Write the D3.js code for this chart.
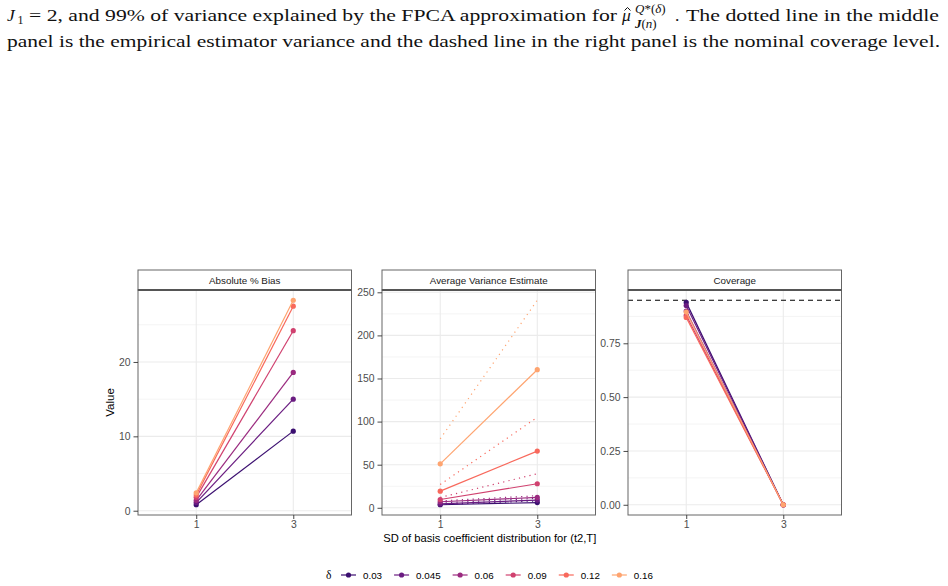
<!DOCTYPE html>
<html>
<head>
<meta charset="utf-8">
<script src="https://cdn.jsdelivr.net/npm/d3@7"></script>
<style>
  body { margin: 0; background: #fff; }
  svg { display: block; }
</style>
</head>
<body>
<svg id="fig" width="948" height="586"></svg>
<script>
// data
var deltas = ['0.03', '0.045', '0.06', '0.09', '0.12', '0.16'];
var sdLevels = ['1', '3'];
var biasVals = [[0.8, 10.7], [1.1, 15.0], [1.4, 18.6], [1.8, 24.2], [2.1, 27.5], [2.4, 28.3]];
var varEst = [[3.5, 6], [4.5, 9], [7, 12], [9.6, 27.9], [19.3, 65.8], [51, 160.2]];
var varEmp = [[4, 8], [5.5, 11], [8, 14], [12, 39.5], [27, 105], [80, 240.8]];
var coverage = [[0.94, 0], [0.925, 0], [0.90, 0], [0.88, 0], [0.87, 0], [0.895, 0]];
var nominal = 0.95;
var colors = ['#3B0F70', '#6A1C81', '#9A2A7F', '#D0416F', '#F8695C', '#FEA470'];

var panelTitles = ['Absolute % Bias', 'Average Variance Estimate', 'Coverage'];
var yTicks = [[0, 10, 20], [0, 50, 100, 150, 200, 250], [0, 0.25, 0.5, 0.75]];
var yMinor = [[5, 15, 25], [25, 75, 125, 175, 225], [0.125, 0.375, 0.625, 0.875]];

var svg = d3.select('#fig');
var font = 'Liberation Sans, Arial, sans-serif';
var serif = 'Liberation Serif, Times New Roman, serif';

// caption
var cap = svg.append('g').style('font-family', serif).style('font-size', '17.5px').attr('fill', '#111');
cap.append('text').attr('x', 7).attr('y', 21).style('font-style', 'italic').text('J');
cap.append('text').attr('x', 17.5).attr('y', 24).style('font-size', '12px').text('1');
cap.append('text').attr('x', 29).attr('y', 21)
   .attr('textLength', 588).attr('lengthAdjust', 'spacingAndGlyphs')
   .text('= 2, and 99% of variance explained by the FPCA approximation for');
cap.append('text').attr('x', 622).attr('y', 21).style('font-style', 'italic').text('\u03bc');
// hat accent over mu
cap.append('path').attr('d', 'M624.5,10.5 L627.5,7.5 L630.5,10.5')
   .attr('fill', 'none').style('stroke', '#111').style('stroke-width', '1px');
cap.append('text').attr('x', 635).attr('y', 13).style('font-size', '13px')
   .html('<tspan font-style="italic">Q</tspan>*(<tspan font-style="italic">\u03b4</tspan>)');
cap.append('text').attr('x', 635).attr('y', 28).style('font-size', '13px')
   .html('<tspan font-style="italic" font-weight="bold">J</tspan>(<tspan font-style="italic">n</tspan>)');
cap.append('text').attr('x', 675).attr('y', 21).text('.');
cap.append('text').attr('x', 686).attr('y', 21)
   .attr('textLength', 253).attr('lengthAdjust', 'spacingAndGlyphs')
   .text('The dotted line in the middle');
cap.append('text').attr('x', 7).attr('y', 47)
   .attr('textLength', 933).attr('lengthAdjust', 'spacingAndGlyphs')
   .text('panel is the empirical estimator variance and the dashed line in the right panel is the nominal coverage level.');

// panels
var panelLeft = [138, 382, 628];
var panelW = 213.5;
var stripTop = 270, panelTop = 290, panelBot = 515;

var solidSets = [biasVals, varEst, coverage];

function extentOf(sets, extra) {
  var all = [];
  sets.forEach(function(s) { s.forEach(function(r) { all = all.concat(r); }); });
  if (extra !== undefined) all.push(extra);
  return d3.extent(all);
}

var domains = [
  extentOf([biasVals]),
  extentOf([varEst, varEmp]),
  extentOf([coverage], nominal)
];

for (var p = 0; p < 3; p++) {
  var x0 = panelLeft[p];
  var g = svg.append('g').attr('transform', 'translate(' + x0 + ',0)');
  var ext = domains[p];
  var pad = (ext[1] - ext[0]) * 0.05;
  var y = d3.scaleLinear().domain([ext[0] - pad, ext[1] + pad]).range([panelBot, panelTop]);
  var x = d3.scalePoint().domain(sdLevels).range([0, panelW]).padding(0.6);

  // background + grid
  g.append('rect').attr('x', 0).attr('y', panelTop).attr('width', panelW).attr('height', panelBot - panelTop)
   .attr('fill', '#fff');
  g.selectAll('.minor').data(yMinor[p]).enter().append('line')
   .attr('x1', 0).attr('x2', panelW).attr('y1', function(d) { return y(d); }).attr('y2', function(d) { return y(d); })
   .style('stroke', '#EBEBEB').style('stroke-width', '0.55px');
  g.selectAll('.major').data(yTicks[p]).enter().append('line')
   .attr('x1', 0).attr('x2', panelW).attr('y1', function(d) { return y(d); }).attr('y2', function(d) { return y(d); })
   .style('stroke', '#EBEBEB').style('stroke-width', '1.1px');
  g.selectAll('.vgrid').data(sdLevels).enter().append('line')
   .attr('y1', panelTop).attr('y2', panelBot).attr('x1', function(d) { return x(d); }).attr('x2', function(d) { return x(d); })
   .style('stroke', '#EBEBEB').style('stroke-width', '1.1px');

  // dotted empirical variance (middle panel)
  if (p === 1) {
    for (var k = 0; k < deltas.length; k++) {
      g.append('line')
       .attr('x1', x(sdLevels[0])).attr('y1', y(varEmp[k][0]))
       .attr('x2', x(sdLevels[1])).attr('y2', y(varEmp[k][1]))
       .style('stroke', colors[k]).style('stroke-width', '1.2px')
       .style('stroke-dasharray', '1.2 4.2');
    }
  }
  // nominal coverage (right panel)
  if (p === 2) {
    g.append('line')
     .attr('x1', 0).attr('x2', panelW).attr('y1', y(nominal)).attr('y2', y(nominal))
     .style('stroke', '#000').style('stroke-width', '1.2px').style('stroke-dasharray', '5 4');
  }

  // solid lines + points
  var set = solidSets[p];
  for (var k = 0; k < deltas.length; k++) {
    var row = set[k];
    g.append('line')
     .attr('x1', x(sdLevels[0])).attr('y1', y(row[0]))
     .attr('x2', x(sdLevels[1])).attr('y2', y(row[1]))
     .style('stroke', colors[k]).style('stroke-width', '1.2px');
    g.selectAll('.pt' + k).data(row).enter().append('circle')
     .attr('cx', function(d, i) { return x(sdLevels[i]); })
     .attr('cy', function(d) { return y(d); })
     .attr('r', 2.6)
     .style('fill', colors[k]);
  }

  // border + strip
  g.append('rect').attr('x', 0).attr('y', panelTop).attr('width', panelW).attr('height', panelBot - panelTop)
   .attr('fill', 'none').style('stroke', '#666').style('stroke-width', '1px');
  g.append('rect').attr('x', 0).attr('y', stripTop).attr('width', panelW).attr('height', panelTop - stripTop)
   .attr('fill', '#fff').style('stroke', '#666').style('stroke-width', '1px');
  g.append('line').attr('x1', 0).attr('x2', panelW).attr('y1', panelTop).attr('y2', panelTop)
   .style('stroke', '#555').style('stroke-width', '2px');
  g.append('text').attr('x', panelW / 2).attr('y', stripTop + 14)
   .attr('text-anchor', 'middle').style('font-family', font).style('font-size', '9.8px').attr('fill', '#1A1A1A')
   .text(panelTitles[p]);

  // axes
  var yAxis = d3.axisLeft(y).tickValues(yTicks[p]).tickSize(4.5).tickPadding(3)
    .tickFormat(p === 2 ? d3.format('.2f') : d3.format('d'));
  var ya = g.append('g').call(yAxis);
  var xa = g.append('g').attr('transform', 'translate(0,' + panelBot + ')')
    .call(d3.axisBottom(x).tickSize(4).tickPadding(1.5));
  [ya, xa].forEach(function(a) {
    a.select('.domain').remove();
    a.selectAll('line').style('stroke', '#333').style('stroke-width', '0.9px');
    a.selectAll('text').style('font-family', font).style('font-size', '10.4px').attr('fill', '#4D4D4D');
  });
}

// axis titles
svg.append('text').attr('transform', 'translate(114,' + ((panelTop + panelBot) / 2) + ') rotate(-90)')
   .attr('text-anchor', 'middle').style('font-family', font).style('font-size', '11.5px').attr('fill', '#000')
   .text('Value');
svg.append('text').attr('x', (panelLeft[0] + panelLeft[2] + panelW) / 2).attr('y', 542)
   .attr('text-anchor', 'middle').style('font-family', font).style('font-size', '11.2px').attr('fill', '#000')
   .text('SD of basis coefficient distribution for (t2,T]');

// legend, laid out left to right from measured label widths
var lg = svg.append('g').attr('transform', 'translate(0,575)');
lg.append('text').attr('x', 326).attr('y', 3.5).style('font-family', serif).style('font-size', '11.5px').text('\u03b4');
var cursor = 341;
deltas.forEach(function(d, k) {
  var lx = cursor;
  lg.append('line').attr('x1', lx).attr('x2', lx + 15).attr('y1', 0).attr('y2', 0)
    .style('stroke', colors[k]).style('stroke-width', '1.2px');
  lg.append('circle').attr('cx', lx + 7.5).attr('cy', 0).attr('r', 2.6).style('fill', colors[k]);
  var t = lg.append('text').attr('x', lx + 22).attr('y', 3.5).style('font-family', font).style('font-size', '9.8px')
    .attr('fill', '#000').text(d);
  cursor = lx + 22 + t.node().getComputedTextLength() + 12;
});
</script>
</body>
</html>
